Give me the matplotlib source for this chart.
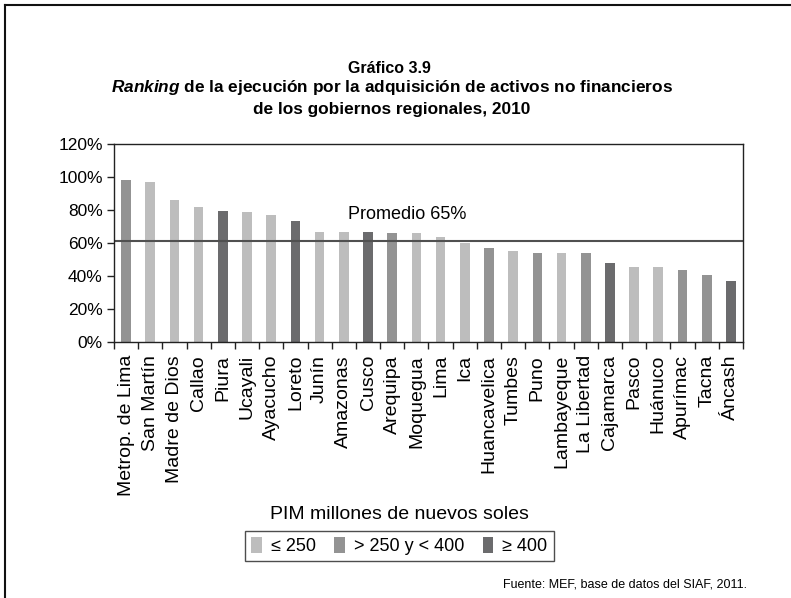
import matplotlib
matplotlib.use('Agg')
import matplotlib.pyplot as plt
from matplotlib.patches import Patch
from matplotlib.lines import Line2D
import numpy as np

plt.rcParams['font.family'] = ['Liberation Sans', 'DejaVu Sans']
plt.rcParams['mathtext.fontset'] = 'custom'
plt.rcParams['mathtext.it'] = 'Liberation Sans:italic:bold'
plt.rcParams['mathtext.rm'] = 'Liberation Sans:bold'

regions = ['Metrop. de Lima', 'San Martín', 'Madre de Dios', 'Callao', 'Piura',
           'Ucayali', 'Ayacucho', 'Loreto', 'Junín', 'Amazonas', 'Cusco',
           'Arequipa', 'Moquegua', 'Lima', 'Ica', 'Huancavelica', 'Tumbes',
           'Puno', 'Lambayeque', 'La Libertad', 'Cajamarca', 'Pasco',
           'Huánuco', 'Apurímac', 'Tacna', 'Áncash']
ejecucion = [98.1, 96.9, 85.9, 82.2, 79.2, 78.6, 76.8, 73.7, 67.0, 67.0, 67.0,
             66.0, 66.0, 64.0, 59.9, 57.3, 55.4, 54.2, 54.2, 54.2, 48.1, 45.7,
             45.7, 43.9, 40.8, 37.2]
# 0: <= 250, 1: > 250 y < 400, 2: >= 400
grupo = [1, 0, 0, 0, 2, 0, 0, 2, 0, 0, 2, 1, 0, 0, 0, 1, 0, 1, 0, 1, 2, 0, 0,
         1, 1, 2]
grupo_labels = ['≤ 250', '> 250 y < 400', '≥ 400']
promedio = 61.1

colores = ['#bdbdbd', '#939393', '#6b6b6d']

fig = plt.figure(figsize=(7.91, 5.98), dpi=100)
ax = fig.add_axes([0.1441, 0.4273, 0.7952, 0.3319])

x = np.arange(len(regions))
ax.bar(x, ejecucion, width=0.4, color=[colores[g] for g in grupo])
ax.axhline(promedio, color='#505050', lw=1.5)
ax.text(11.6, 77.5, 'Promedio 65%', ha='center', va='center', fontsize=13)

ax.set_xlim(-0.5, len(regions) - 0.5)
ax.set_ylim(0, 120)
ax.set_yticks(np.arange(0, 121, 20))
ax.set_yticklabels(['%d%%' % v for v in range(0, 121, 20)], fontsize=12.5)
ax.set_xticks(x)
ax.set_xticklabels(regions, rotation=90, fontsize=14)
ax.tick_params(axis='x', length=0, pad=9)
ax.set_xticks(np.arange(-0.5, len(regions), 1), minor=True)
ax.tick_params(axis='x', which='minor', length=5, width=1, color='#222222')
ax.tick_params(axis='y', length=5, width=1, color='#222222', pad=3)
for s in ax.spines.values():
    s.set_color('#222222')
    s.set_linewidth(1)

fig.text(0.492, 0.886, 'Gráfico 3.9', ha='center', va='center',
         fontsize=11.5, weight='bold')
fig.text(0.495, 0.853, r'$\it{Ranking}$ de la ejecución por la adquisición de activos no financieros',
         ha='center', va='center', fontsize=12.4, weight='bold')
fig.text(0.495, 0.817, 'de los gobiernos regionales, 2010', ha='center',
         va='center', fontsize=12.4, weight='bold')

fig.text(0.505, 0.14, 'PIM millones de nuevos soles', ha='center',
         va='center', fontsize=14)

handles = [Patch(facecolor=c, edgecolor='none') for c in colores]
leg = fig.legend(handles, grupo_labels, ncol=3, loc='center',
                 bbox_to_anchor=(0.505, 0.087), fontsize=13, frameon=True,
                 fancybox=False, edgecolor='#222222', handlelength=0.6,
                 handleheight=1.0, handletextpad=0.5, columnspacing=1.0,
                 borderpad=0.35)
leg.get_frame().set_linewidth(1)

fig.text(0.945, 0.023, 'Fuente: MEF, base de datos del SIAF, 2011.',
         ha='right', va='center', fontsize=9)

# marco de la figura (solo izquierda y arriba)
fig.add_artist(Line2D([0.006, 0.006], [0.0, 0.992], transform=fig.transFigure,
                      color='#111111', lw=1.5))
fig.add_artist(Line2D([0.006, 1.0], [0.992, 0.992], transform=fig.transFigure,
                      color='#111111', lw=1.5))

fig.savefig('out.png', dpi=100)
